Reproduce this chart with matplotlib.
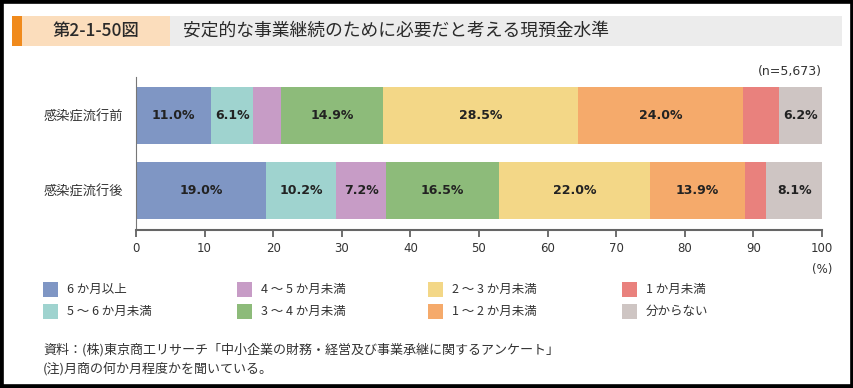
import matplotlib
matplotlib.use("Agg")
import matplotlib.pyplot as plt
import matplotlib.patches as mpatches
import numpy as np

plt.rcParams['font.family'] = ['Noto Sans CJK JP', 'DejaVu Sans']

# data
groups = ["感染症流行前", "感染症流行後"]
categories = ["6 か月以上", "5 ～ 6 か月未満", "4 ～ 5 か月未満", "3 ～ 4 か月未満",
              "2 ～ 3 か月未満", "1 ～ 2 か月未満", "1 か月未満", "分からない"]
before = [11.0, 6.1, 4.0, 14.9, 28.5, 24.0, 5.3, 6.2]
after = [19.0, 10.2, 7.2, 16.5, 22.0, 13.9, 3.1, 8.1]
show_label_before = [True, True, False, True, True, True, False, True]
show_label_after = [True, True, True, True, True, True, False, True]
colors = ["#7F96C4", "#9FD3CF", "#C79CC6", "#8DBB7A",
          "#F3D787", "#F5AA6B", "#E9817D", "#CEC5C3"]
xticks = [0, 10, 20, 30, 40, 50, 60, 70, 80, 90, 100]

W, H = 854, 388
fig = plt.figure(figsize=(W / 100, H / 100), dpi=100)
fig.patch.set_facecolor("white")


def px(x, y):
    return x / W, 1 - y / H


def rect(x0, y0, x1, y1, color):
    fig.patches.append(mpatches.Rectangle((x0 / W, 1 - y1 / H), (x1 - x0) / W,
                                          (y1 - y0) / H, transform=fig.transFigure,
                                          facecolor=color, edgecolor="none", zorder=0))


# header
rect(12, 16, 22, 46, "#F08A1C")
rect(22, 16, 170, 46, "#FBDDBC")
rect(170, 16, 842, 46, "#ECECEC")
fig.text(*px(96, 31), "第2-1-50図", ha="center", va="center", fontsize=12.5,
         fontweight="medium", color="#2a2a2a")
fig.text(*px(183, 31), "安定的な事業継続のために必要だと考える現預金水準", ha="left", va="center",
         fontsize=12.8, color="#2a2a2a")

# chart
ax = fig.add_axes([136 / W, 1 - 230 / H, (822 - 136) / W, (230 - 77) / H])
ypos = [1, 0]
rows = [(before, show_label_before), (after, show_label_after)]
for y, (vals, shows) in zip(ypos, rows):
    left = 0
    for v, c, s in zip(vals, colors, shows):
        ax.barh(y, v, left=left, height=0.755, color=c, edgecolor="none")
        if s:
            ax.text(left + v / 2, y, f"{v:.1f}%", ha="center", va="center",
                    fontsize=9, fontweight="bold", color="#222222",
                    family="DejaVu Sans")
        left += v

ax.set_xlim(0, 100)
ax.set_ylim(-0.517, 1.51)
ax.set_xticks(xticks)
ax.set_xticklabels([str(t) for t in xticks], family="DejaVu Sans", fontsize=8.5, color="#333333")
ax.set_yticks(ypos)
ax.set_yticklabels(groups, fontsize=9.5, color="#333333")
ax.tick_params(axis="y", length=0, pad=9)
ax.tick_params(axis="x", direction="out", length=5, width=1.2, color="#555555", pad=4)
for s in ["top", "right"]:
    ax.spines[s].set_visible(False)
ax.spines["left"].set_color("#777777")
ax.spines["bottom"].set_color("#666666")
ax.spines["bottom"].set_linewidth(1.5)
ax.set_facecolor("none")

fig.text(*px(822, 72), "(n=5,673)", ha="right", va="center", fontsize=9,
         color="#333333", family="DejaVu Sans")
fig.text(*px(822, 270), "(%)", ha="center", va="center", fontsize=8.5,
         color="#333333", family="DejaVu Sans")

# legend
col_x = [43, 237, 428, 622]
row_y = [289, 311]
for i, (lab, c) in enumerate(zip(categories, colors)):
    cx = col_x[i // 2]
    cy = row_y[i % 2]
    rect(cx, cy - 7.5, cx + 15, cy + 7.5, c)
    fig.text(*px(cx + 24, cy), lab, ha="left", va="center", fontsize=9, color="#333333")

# notes
fig.text(*px(43, 350), "資料：(株)東京商工リサーチ「中小企業の財務・経営及び事業承継に関するアンケート」",
         ha="left", va="center", fontsize=9.4, color="#333333")
fig.text(*px(43, 369), "(注)月商の何か月程度かを聞いている。",
         ha="left", va="center", fontsize=9.4, color="#333333")

# outer frame
fig.patches.append(mpatches.Rectangle((0, 0), 1, 1, transform=fig.transFigure,
                                      fill=False, edgecolor="black", linewidth=5.5))

fig.savefig("out.png", dpi=100)
